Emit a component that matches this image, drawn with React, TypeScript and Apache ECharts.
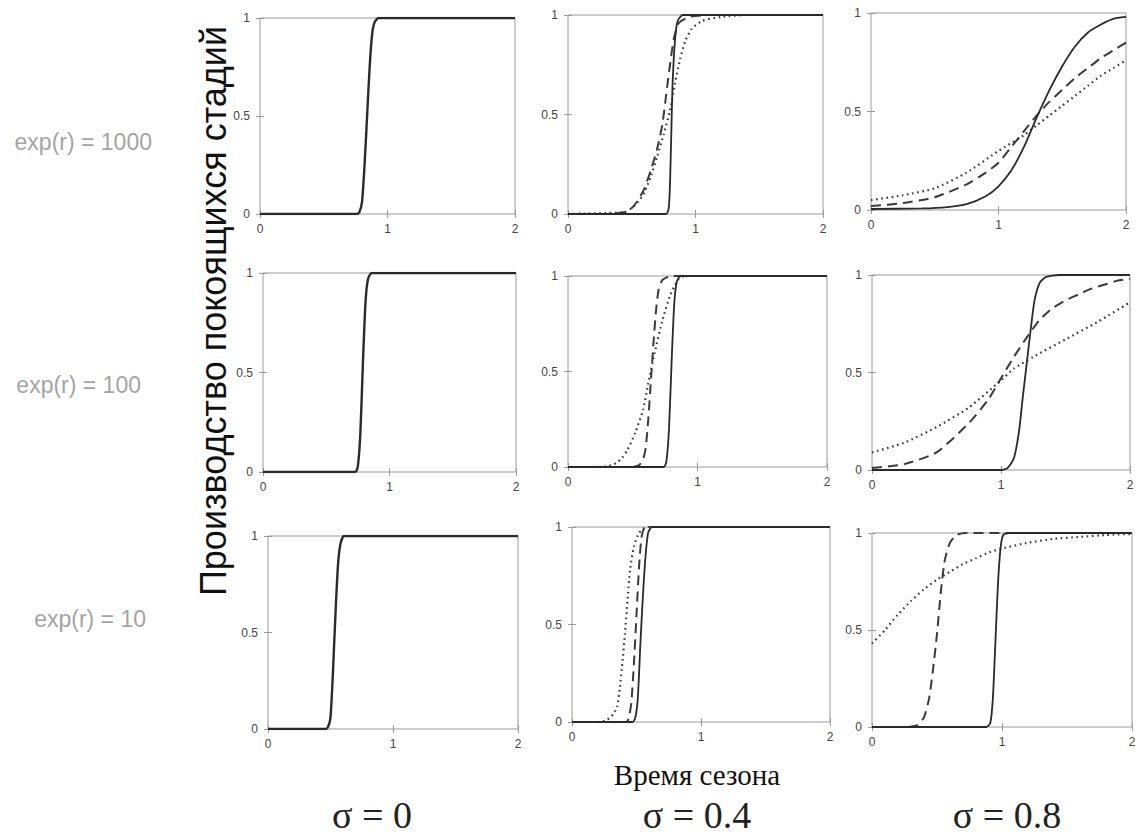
import React, { useEffect, useRef } from "react";
import * as echarts from "echarts";

type Pt = [number, number];

// ---- Data ----
const rowLabels = ["exp(r) = 1000", "exp(r) = 100", "exp(r) = 10"];
const colLabels = ["σ = 0", "σ = 0.4", "σ = 0.8"];
const xTitle = "Время сезона";
const yTitle = "Производство покоящихся стадий";
const xTicks = [0, 1, 2];
const yTicks = [0, 0.5, 1];

// row 1: exp(r) = 1000
const r1c1Solid: Pt[] = [[0, 0], [0.76, 0], [0.78, 0.01], [0.8, 0.06], [0.82, 0.25], [0.84, 0.5], [0.86, 0.75], [0.88, 0.92], [0.9, 0.98], [0.93, 1], [2, 1]];
const r1c2Solid: Pt[] = [[0, 0], [0.77, 0], [0.79, 0.03], [0.8, 0.15], [0.81, 0.4], [0.82, 0.65], [0.84, 0.88], [0.86, 0.97], [0.9, 1], [2, 1]];
const r1c2Dashed: Pt[] = [[0, 0], [0.3, 0], [0.45, 0.01], [0.5, 0.03], [0.55, 0.07], [0.6, 0.13], [0.65, 0.22], [0.7, 0.33], [0.74, 0.45], [0.77, 0.6], [0.8, 0.75], [0.83, 0.88], [0.87, 0.96], [0.95, 0.99], [1.1, 1], [2, 1]];
const r1c2Dotted: Pt[] = [[0, 0], [0.1, 0.002], [0.3, 0.005], [0.45, 0.01], [0.5, 0.03], [0.55, 0.06], [0.6, 0.11], [0.65, 0.19], [0.7, 0.29], [0.75, 0.4], [0.8, 0.52], [0.84, 0.66], [0.88, 0.78], [0.92, 0.87], [0.97, 0.93], [1.05, 0.97], [1.2, 0.99], [1.4, 1], [2, 1]];
const r1c3Solid: Pt[] = [[0, 0.005], [0.4, 0.008], [0.6, 0.015], [0.75, 0.03], [0.9, 0.07], [1.0, 0.12], [1.1, 0.2], [1.2, 0.32], [1.3, 0.47], [1.4, 0.61], [1.5, 0.73], [1.6, 0.83], [1.7, 0.9], [1.8, 0.94], [1.9, 0.97], [2, 0.98]];
const r1c3Dashed: Pt[] = [[0, 0.02], [0.25, 0.035], [0.5, 0.065], [0.75, 0.13], [0.9, 0.19], [1.0, 0.24], [1.1, 0.32], [1.2, 0.4], [1.3, 0.48], [1.4, 0.55], [1.5, 0.61], [1.6, 0.67], [1.7, 0.72], [1.8, 0.77], [1.9, 0.81], [2, 0.85]];
const r1c3Dotted: Pt[] = [[0, 0.05], [0.25, 0.075], [0.5, 0.11], [0.75, 0.19], [1.0, 0.3], [1.2, 0.38], [1.3, 0.43], [1.4, 0.48], [1.5, 0.53], [1.6, 0.58], [1.7, 0.63], [1.8, 0.68], [1.9, 0.72], [2, 0.76]];

// row 2: exp(r) = 100
const r2c1Solid: Pt[] = [[0, 0], [0.73, 0], [0.75, 0.03], [0.77, 0.2], [0.79, 0.55], [0.81, 0.85], [0.83, 0.97], [0.86, 1], [2, 1]];
const r2c2Solid: Pt[] = [[0, 0], [0.74, 0], [0.76, 0.03], [0.78, 0.2], [0.8, 0.55], [0.82, 0.85], [0.84, 0.97], [0.87, 1], [2, 1]];
const r2c2Dashed: Pt[] = [[0, 0], [0.5, 0], [0.55, 0.01], [0.58, 0.04], [0.6, 0.1], [0.62, 0.25], [0.64, 0.45], [0.66, 0.65], [0.68, 0.82], [0.7, 0.93], [0.73, 0.98], [0.8, 1], [2, 1]];
const r2c2Dotted: Pt[] = [[0.2, 0], [0.3, 0.003], [0.37, 0.02], [0.42, 0.05], [0.46, 0.09], [0.52, 0.18], [0.58, 0.3], [0.62, 0.44], [0.67, 0.6], [0.73, 0.77], [0.79, 0.9], [0.85, 0.98], [0.9, 1], [2, 1]];
const r2c3Solid: Pt[] = [[0, 0], [1.0, 0], [1.05, 0.01], [1.1, 0.06], [1.14, 0.2], [1.17, 0.38], [1.2, 0.55], [1.23, 0.72], [1.26, 0.87], [1.3, 0.96], [1.35, 0.99], [1.45, 1], [2, 1]];
const r2c3Dashed: Pt[] = [[0, 0.01], [0.25, 0.03], [0.5, 0.09], [0.75, 0.24], [0.9, 0.36], [1.0, 0.47], [1.1, 0.58], [1.2, 0.68], [1.3, 0.77], [1.4, 0.83], [1.5, 0.87], [1.6, 0.9], [1.7, 0.93], [1.8, 0.95], [1.9, 0.97], [2, 0.98]];
const r2c3Dotted: Pt[] = [[0, 0.09], [0.25, 0.14], [0.5, 0.22], [0.75, 0.32], [1.0, 0.46], [1.1, 0.52], [1.25, 0.58], [1.5, 0.67], [1.75, 0.76], [2, 0.86]];

// row 3: exp(r) = 10
const r3c1Solid: Pt[] = [[0, 0], [0.46, 0], [0.48, 0.01], [0.5, 0.06], [0.52, 0.3], [0.54, 0.6], [0.56, 0.85], [0.58, 0.96], [0.61, 1], [2, 1]];
const r3c2Solid: Pt[] = [[0, 0], [0.47, 0], [0.49, 0.02], [0.51, 0.12], [0.53, 0.4], [0.55, 0.65], [0.57, 0.85], [0.59, 0.97], [0.62, 1], [2, 1]];
const r3c2Dashed: Pt[] = [[0, 0], [0.42, 0], [0.44, 0.02], [0.46, 0.1], [0.48, 0.3], [0.5, 0.55], [0.52, 0.8], [0.54, 0.95], [0.57, 1], [2, 1]];
const r3c2Dotted: Pt[] = [[0.2, 0], [0.27, 0.01], [0.32, 0.04], [0.35, 0.08], [0.37, 0.17], [0.39, 0.3], [0.41, 0.45], [0.43, 0.62], [0.45, 0.78], [0.48, 0.9], [0.52, 0.97], [0.58, 1], [2, 1]];
const r3c3Solid: Pt[] = [[0, 0], [0.88, 0], [0.91, 0.02], [0.93, 0.15], [0.95, 0.45], [0.97, 0.75], [0.99, 0.93], [1.01, 0.99], [1.05, 1], [2, 1]];
const r3c3Dashed: Pt[] = [[0.28, 0], [0.35, 0.01], [0.4, 0.05], [0.44, 0.15], [0.47, 0.3], [0.5, 0.48], [0.53, 0.7], [0.56, 0.86], [0.6, 0.95], [0.65, 0.99], [0.72, 1], [2, 1]];
const r3c3Dotted: Pt[] = [[0, 0.43], [0.1, 0.5], [0.2, 0.58], [0.3, 0.65], [0.4, 0.71], [0.5, 0.76], [0.6, 0.8], [0.7, 0.84], [0.8, 0.87], [0.9, 0.9], [1.0, 0.92], [1.2, 0.95], [1.4, 0.97], [1.6, 0.98], [1.8, 0.99], [2, 0.995]];

type PanelData = { solid: Pt[]; dashed?: Pt[]; dotted?: Pt[] };
const panelData: PanelData[][] = [
  [{ solid: r1c1Solid }, { solid: r1c2Solid, dashed: r1c2Dashed, dotted: r1c2Dotted }, { solid: r1c3Solid, dashed: r1c3Dashed, dotted: r1c3Dotted }],
  [{ solid: r2c1Solid }, { solid: r2c2Solid, dashed: r2c2Dashed, dotted: r2c2Dotted }, { solid: r2c3Solid, dashed: r2c3Dashed, dotted: r2c3Dotted }],
  [{ solid: r3c1Solid }, { solid: r3c2Solid, dashed: r3c2Dashed, dotted: r3c2Dotted }, { solid: r3c3Solid, dashed: r3c3Dashed, dotted: r3c3Dotted }],
];

// ---- Layout (pixel boxes of each panel) ----
const boxes = [
  [{ l: 260, t: 18, r: 515, b: 214 }, { l: 568, t: 15, r: 823, b: 214 }, { l: 871, t: 13, r: 1126, b: 210 }],
  [{ l: 263, t: 273, r: 516, b: 472 }, { l: 568, t: 276, r: 827, b: 467 }, { l: 872, t: 275, r: 1130, b: 470 }],
  [{ l: 268, t: 536, r: 518, b: 729 }, { l: 572, t: 527, r: 830, b: 722 }, { l: 872, t: 533, r: 1132, b: 727 }],
];
const rowLabelPos = [{ x: 152, y: 142 }, { x: 141, y: 385 }, { x: 146, y: 619 }];
const colLabelX = [372, 697, 1007];

const FRAME = "#9a9a9a";
const LABEL = "#444";
const SANS = "'Liberation Sans', Arial, sans-serif";
const SERIF = "'Liberation Serif', 'Times New Roman', serif";

function buildOption() {
  const grid: any[] = [];
  const xAxis: any[] = [];
  const yAxis: any[] = [];
  const series: any[] = [];
  let g = 0;
  for (let r = 0; r < 3; r++) {
    for (let c = 0; c < 3; c++) {
      const bx = boxes[r][c];
      grid.push({
        left: bx.l,
        top: bx.t,
        width: bx.r - bx.l,
        height: bx.b - bx.t,
        show: true,
        borderColor: FRAME,
        borderWidth: 1,
        backgroundColor: "#fff",
      });
      const tick = { show: true, inside: true, length: 4, lineStyle: { color: FRAME } };
      xAxis.push({
        type: "value", gridIndex: g, min: xTicks[0], max: xTicks[xTicks.length - 1], interval: 1,
        position: "bottom", axisLine: { show: false }, splitLine: { show: false }, axisTick: tick,
        axisLabel: { color: LABEL, fontSize: 12, fontFamily: SANS, margin: 9 },
      });
      xAxis.push({
        type: "value", gridIndex: g, min: xTicks[0], max: xTicks[xTicks.length - 1], interval: 1,
        position: "top", axisLine: { show: false }, splitLine: { show: false }, axisTick: tick,
        axisLabel: { show: false },
      });
      yAxis.push({
        type: "value", gridIndex: g, min: yTicks[0], max: yTicks[yTicks.length - 1], interval: 0.5,
        position: "left", axisLine: { show: false }, splitLine: { show: false }, axisTick: tick,
        axisLabel: { color: LABEL, fontSize: 12, fontFamily: SANS, margin: 10 },
      });
      yAxis.push({
        type: "value", gridIndex: g, min: yTicks[0], max: yTicks[yTicks.length - 1], interval: 0.5,
        position: "right", axisLine: { show: false }, splitLine: { show: false }, axisTick: tick,
        axisLabel: { show: false },
      });
      const xi = g * 2;
      const yi = g * 2;
      const pd = panelData[r][c];
      const common = {
        type: "line", xAxisIndex: xi, yAxisIndex: yi, showSymbol: false, symbol: "none",
        smooth: 0.2, clip: true, z: 3,
      };
      if (pd.dotted) {
        series.push({
          ...common, name: `r${r}c${c}dotted`, data: pd.dotted,
          lineStyle: { color: "#3a3a3a", width: 2.2, type: [1.6, 3.6] },
        });
      }
      if (pd.dashed) {
        series.push({
          ...common, name: `r${r}c${c}dashed`, data: pd.dashed,
          lineStyle: { color: "#3a3a3a", width: 2, type: [10, 6] },
        });
      }
      series.push({
        ...common, name: `r${r}c${c}solid`, data: pd.solid,
        lineStyle: { color: "#2a2a2a", width: c === 0 ? 2.4 : 1.8, type: "solid" },
      });
      g++;
    }
  }

  const graphic: any[] = [];
  rowLabels.forEach((t, i) => {
    graphic.push({
      type: "text", x: rowLabelPos[i].x, y: rowLabelPos[i].y,
      style: { text: t, fill: "#a4a4a4", fontSize: 23, fontFamily: SANS, textAlign: "right", textVerticalAlign: "middle" },
    });
  });
  colLabels.forEach((t, i) => {
    graphic.push({
      type: "text", x: colLabelX[i], y: 815,
      style: { text: t, fill: "#222", fontSize: 38, fontFamily: SERIF, textAlign: "center", textVerticalAlign: "middle" },
    });
  });
  graphic.push({
    type: "text", x: 697, y: 775,
    style: { text: xTitle, fill: "#111", fontSize: 29, fontFamily: SERIF, textAlign: "center", textVerticalAlign: "middle" },
  });
  graphic.push({
    type: "text", x: 213, y: 311, rotation: Math.PI / 2,
    style: { text: yTitle, fill: "#111", fontSize: 36, fontFamily: SANS, textAlign: "center", textVerticalAlign: "middle" },
  });

  return {
    animation: false,
    backgroundColor: "#fff",
    grid,
    xAxis,
    yAxis,
    series,
    graphic,
  };
}

export default function App() {
  const ref = useRef<HTMLDivElement>(null);
  useEffect(() => {
    if (!ref.current) return;
    const chart = echarts.init(ref.current, undefined, { renderer: "svg" });
    chart.setOption(buildOption() as any);
    return () => chart.dispose();
  }, []);
  return (
    <div
      ref={ref}
      style={{ position: "fixed", left: 0, top: 0, width: 1145, height: 836, background: "#fff" }}
    />
  );
}
